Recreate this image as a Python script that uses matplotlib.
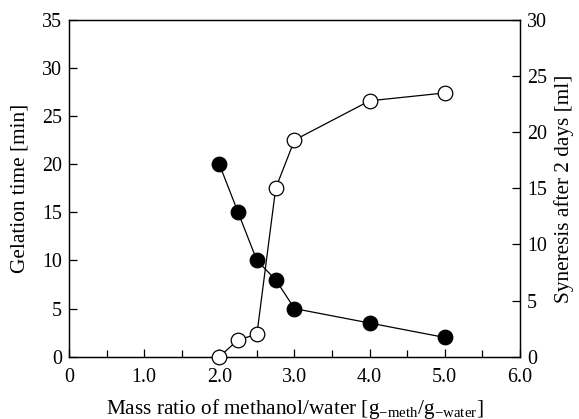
import matplotlib
matplotlib.use('Agg')
import matplotlib.pyplot as plt
from matplotlib.ticker import MultipleLocator, FixedLocator

plt.rcParams['font.family'] = ['Liberation Serif', 'DejaVu Serif']
plt.rcParams['mathtext.fontset'] = 'custom'
plt.rcParams['mathtext.rm'] = 'Liberation Serif'
plt.rcParams['mathtext.it'] = 'Liberation Serif:italic'

#%% Data

ratio = [2.0, 2.25, 2.5, 2.75, 3.0, 4.0, 5.0]
gel_time = [20, 15, 10, 8, 5, 3.5, 2]
syneresis = [0, 1.5, 2.0, 15.0, 19.3, 22.8, 23.5]
x_ticks = [0, 1, 2, 3, 4, 5, 6]
x_labels = ['0', '1.0', '2.0', '3.0', '4.0', '5.0', '6.0']

#%% Chart

fs_tick = 14.4
fs_lab = 15.3
fig = plt.figure(figsize=(5.79, 4.19), dpi=100)
ax = fig.add_axes([0.1192, 0.1487, 0.898 - 0.1192, 0.9523 - 0.1487])
ax2 = ax.twinx()

ax.plot(ratio, gel_time, color='black', lw=0.9, marker='o', ms=10.5,
        mfc='black', mec='black', mew=0.9, clip_on=False, zorder=3)
ax2.plot(ratio, syneresis, color='black', lw=0.9, marker='o', ms=10.5,
         mfc='white', mec='black', mew=0.9, clip_on=False, zorder=3)

ax.set_xlim(0, 6)
ax.set_ylim(0, 35)
ax2.set_ylim(0, 30)

ax.xaxis.set_major_locator(FixedLocator(x_ticks))
ax.set_xticklabels(x_labels)
ax.xaxis.set_minor_locator(MultipleLocator(0.5))
ax.yaxis.set_major_locator(MultipleLocator(5))
ax2.yaxis.set_major_locator(MultipleLocator(5))

ax.tick_params(axis='x', which='both', direction='in', top=False, labelsize=fs_tick, pad=8)
ax.tick_params(axis='x', which='major', length=6, width=0.9)
ax.tick_params(axis='x', which='minor', length=5, width=0.9)
ax.tick_params(axis='y', direction='in', length=6, width=0.9, labelsize=fs_tick, pad=5)
ax2.tick_params(axis='y', direction='in', length=6, width=0.9, labelsize=fs_tick, pad=5)

for a in (ax, ax2):
    for s in a.spines.values():
        s.set_linewidth(0.9)

ax.set_ylabel('Gelation time [min]', fontsize=fs_lab)
ax2.set_ylabel('Syneresis after 2 days [ml]', fontsize=fs_lab)
ax.set_xlabel(r'Mass ratio of methanol/water [g$_{\mathrm{-meth}}$/g$_{\mathrm{-water}}$]',
              fontsize=fs_lab, labelpad=7)
ax.yaxis.set_label_coords(-0.088, 0.5)
ax2.yaxis.set_label_coords(1.075, 0.5)

plt.savefig('out.png', dpi=100)
